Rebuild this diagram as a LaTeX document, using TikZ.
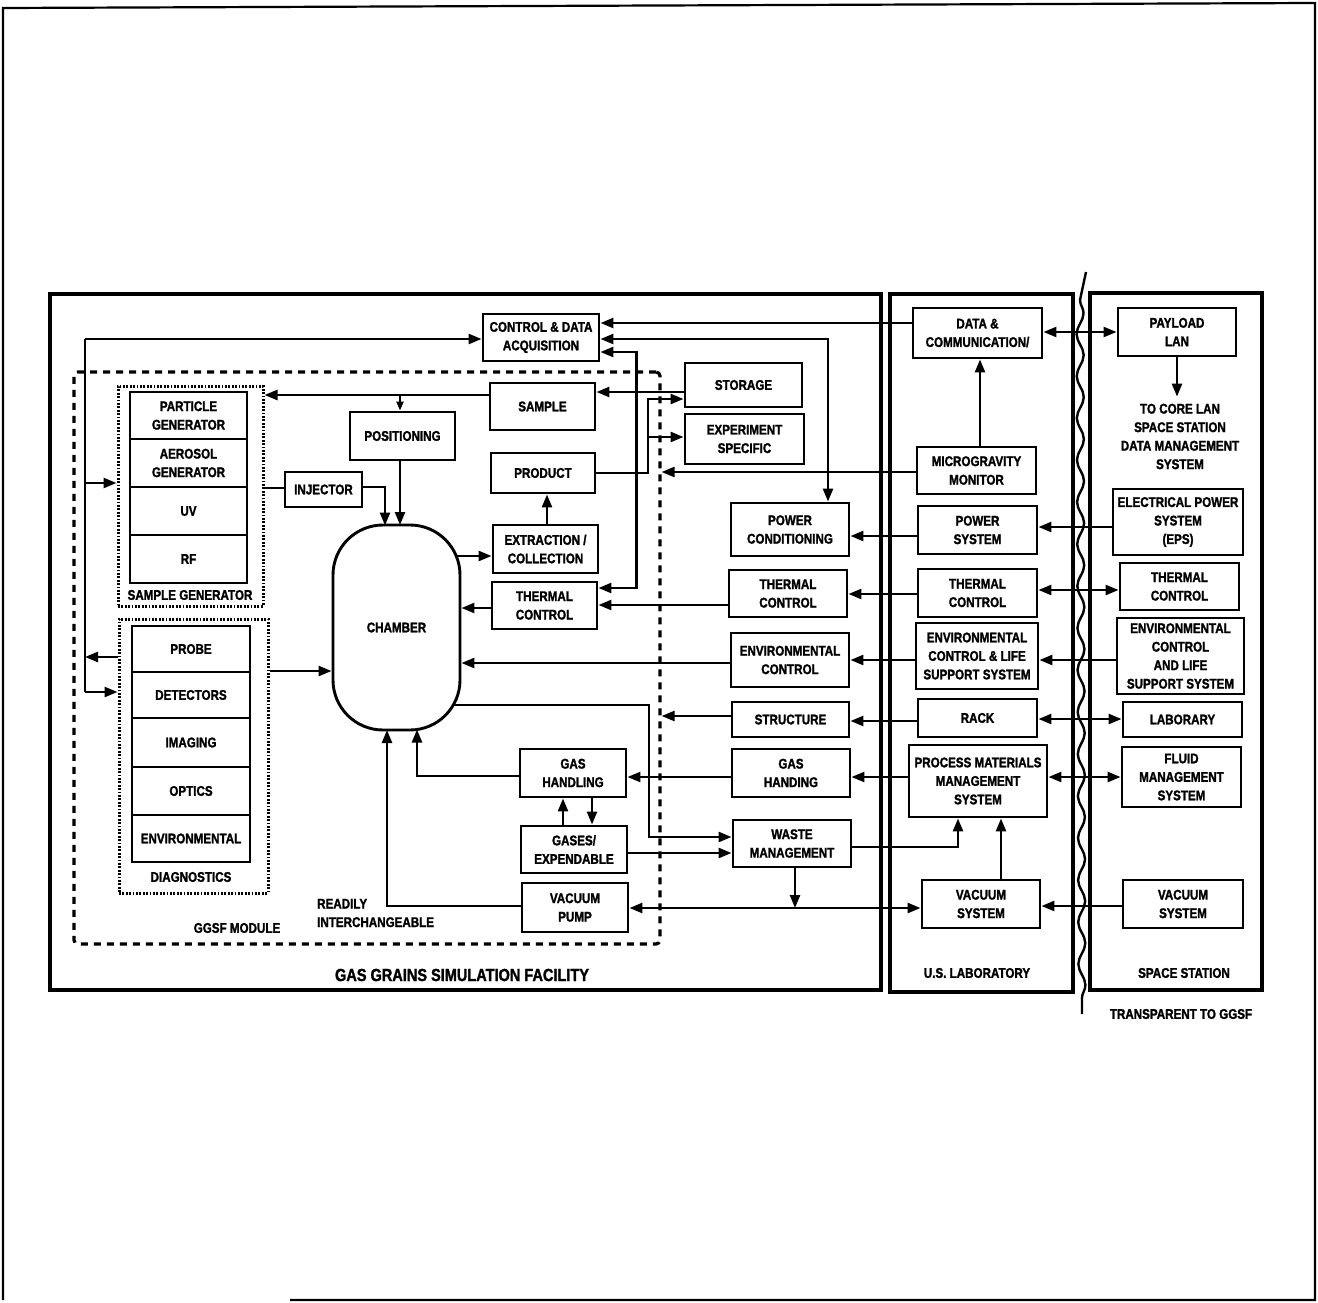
\documentclass[tikz,border=0pt]{standalone}
\usepackage{fontspec}
\newfontfamily\lbl{Liberation Sans}[FakeStretch=0.83, BoldFeatures={FakeBold=1.6}]
\usetikzlibrary{arrows.meta,decorations.pathmorphing}

\begin{document}
\begin{tikzpicture}[x=1pt,y=-1pt,
  txt/.style={font=\lbl\bfseries\fontsize{14}{18.5}\selectfont, align=center, inner sep=0pt},
  box/.style={txt, draw, line width=2.9pt},
  bx/.style 2 args={box, minimum width=#1pt, minimum height=#2pt},
  frame/.style 2 args={draw, line width=3.4pt, inner sep=0pt, minimum width=#1pt, minimum height=#2pt},
  modframe/.style 2 args={draw, line width=3.2pt, dash pattern=on 7pt off 6pt, rounded corners=4pt,
    inner sep=0pt, minimum width=#1pt, minimum height=#2pt},
  grpframe/.style 2 args={draw, line width=3pt, dash pattern=on 1.8pt off 1.6pt,
    inner sep=0pt, minimum width=#1pt, minimum height=#2pt},
  wire/.style={line width=2.5pt},
  tip/.tip={Triangle[length=13pt,width=10pt]},
  arr/.style={wire, -tip},
  darr/.style={wire, tip-tip},
]
\useasboundingbox (0,0) rectangle (1318,1303);

% page frame
\draw[line width=2.2pt] (290,1300) -- (1315,1300) -- (1315,3) -- (3,8) -- (3,1300);

% outer system frames
\node[frame={831}{696}] (ggsf) at (465.5,642) {};
\node[frame={183}{698}] (uslab) at (981.5,643) {};
\node[frame={172}{697}] (sstn) at (1176,641.5) {};
\node[modframe={586}{572}] (mod) at (367,658) {};

% boundary of what is transparent to the facility
\draw[line width=2.4pt] (1086,272) -- (1080,300);
\draw[line width=2.4pt, decorate, decoration={snake, amplitude=3.5pt, segment length=42pt}]
  (1080,300) -- (1082,1014);

% sample generator stack
\node[grpframe={145}{220}] (sg) at (190.5,496) {};
\node[bx={117}{47}] (pgen) at (188.5,415.5) {PARTICLE\\GENERATOR};
\node[bx={117}{48}] (agen) at (188.5,463) {AEROSOL\\GENERATOR};
\node[bx={117}{48}] (uv) at (188.5,511) {UV};
\node[bx={117}{48}] (rf) at (188.5,559) {RF};
\node[txt] (sglabel) at (190,595) {SAMPLE GENERATOR};

% diagnostics stack
\node[grpframe={149}{274}] (diag) at (193.5,756) {};
\node[bx={118}{46}] (probe) at (191,649) {PROBE};
\node[bx={118}{46}] (detect) at (191,695) {DETECTORS};
\node[bx={118}{49}] (imaging) at (191,742.5) {IMAGING};
\node[bx={118}{48}] (optics) at (191,791) {OPTICS};
\node[bx={118}{47}] (envdiag) at (191,838.5) {ENVIRONMENTAL};
\node[txt] (diaglabel) at (191,877) {DIAGNOSTICS};

% chamber
\node[draw, line width=2.9pt, rounded corners=50pt, minimum width=127pt, minimum height=205pt,
  txt] (chamber) at (396.5,627.5) {CHAMBER};
\coordinate (ch-inj) at (385,525.5);
\coordinate (ch-pos) at (400,525);
\coordinate (ch-ex) at (456,556);
\coordinate (ch-wm) at (453,705);
\coordinate (ch-gh) at (417,729.5);
\coordinate (ch-vp) at (387,730);

% facility blocks
\node[bx={116}{47}] (cda) at (541,337.5) {CONTROL \& DATA\\ACQUISITION};
\node[bx={105}{47}] (sample) at (542.5,406.5) {SAMPLE};
\node[bx={105}{48}] (posn) at (402.5,436) {POSITIONING};
\node[bx={104}{40}] (product) at (543,473) {PRODUCT};
\node[bx={77}{35}] (injector) at (323.5,489.5) {INJECTOR};
\node[bx={105}{48}] (extr) at (545.5,549) {EXTRACTION /\\COLLECTION};
\node[bx={105}{47}] (tcl) at (544.5,605.5) {THERMAL\\CONTROL};
\node[bx={106}{48}] (ghl) at (573,773) {GAS\\HANDLING};
\node[bx={106}{47}] (gasexp) at (574,849.5) {GASES/\\EXPENDABLE};
\node[bx={106}{49}] (vpump) at (575,907.5) {VACUUM\\PUMP};
\node[bx={117}{44}] (storage) at (743.5,385) {STORAGE};
\node[bx={119}{50}] (expspec) at (744.5,439) {EXPERIMENT\\SPECIFIC};
\node[bx={118}{53}] (pcond) at (790,529.5) {POWER\\CONDITIONING};
\node[bx={118}{47}] (tcr) at (788,593.5) {THERMAL\\CONTROL};
\node[bx={118}{54}] (envc) at (790,660) {ENVIRONMENTAL\\CONTROL};
\node[bx={117}{35}] (struct) at (790.5,719.5) {STRUCTURE};
\node[bx={118}{48}] (ghr) at (791,773) {GAS\\HANDING};
\node[bx={118}{47}] (waste) at (792,843.5) {WASTE\\MANAGEMENT};

% U.S. laboratory blocks
\node[bx={129}{50}] (dcomm) at (977.5,333) {DATA \&\\COMMUNICATION/};
\node[bx={119}{47}] (mgm) at (976.5,470.5) {MICROGRAVITY\\MONITOR};
\node[bx={119}{48}] (psys) at (977.5,530) {POWER\\SYSTEM};
\node[bx={119}{48}] (tcus) at (977.5,593) {THERMAL\\CONTROL};
\node[bx={122}{66}] (eclus) at (977,656) {ENVIRONMENTAL\\CONTROL \& LIFE\\SUPPORT SYSTEM};
\node[bx={119}{38}] (rack) at (977.5,718) {RACK};
\node[bx={138}{72}] (pmms) at (978,781) {PROCESS MATERIALS\\MANAGEMENT\\SYSTEM};
\node[bx={118}{48}] (vsus) at (981,904) {VACUUM\\SYSTEM};

% space station blocks
\node[bx={118}{48}] (plan) at (1177,332) {PAYLOAD\\LAN};
\node[txt] (core) at (1180,436.5) {TO CORE LAN\\SPACE STATION\\DATA MANAGEMENT\\SYSTEM};
\node[bx={130}{66}] (eps) at (1178,522) {ELECTRICAL POWER\\SYSTEM\\(EPS)};
\node[bx={119}{47}] (tcss) at (1179.5,586.5) {THERMAL\\CONTROL};
\node[bx={127}{76}] (eclss) at (1180.5,656) {ENVIRONMENTAL\\CONTROL\\AND LIFE\\SUPPORT SYSTEM};
\node[bx={119}{35}] (lab) at (1182.5,719.5) {LABORARY};
\node[bx={119}{60}] (fluid) at (1181.5,777) {FLUID\\MANAGEMENT\\SYSTEM};
\node[bx={120}{48}] (vsss) at (1183,904) {VACUUM\\SYSTEM};

% captions
\node[txt, font=\lbl\bfseries\fontsize{17.5}{20}\selectfont] (ggsfcap) at (462,975) {GAS GRAINS SIMULATION FACILITY};
\node[txt] (uscap) at (977,973) {U.S. LABORATORY};
\node[txt] (sscap) at (1184,973) {SPACE STATION};
\node[txt] (trcap) at (1181,1014) {TRANSPARENT TO GGSF};
\node[txt] (modcap) at (237,928) {GGSF MODULE};
\node[txt, align=left, anchor=west] (ricap) at (317,913) {READILY\\INTERCHANGEABLE};

% left-hand distribution bus
\coordinate (lt) at (85,339);
\coordinate (lb) at (85,692);
\draw[wire] (lb) -- (lt);
\draw[arr] (lt) -- (cda.west|-lt);
\draw[arr] (lt|-0,483) -- (sg.west|-0,483);
\draw[arr] (diag.west|-0,657) -- (lt|-0,657);
\draw[arr] (lb) -- (diag.west|-lb);

% links around the chamber
\draw[wire] (sg.east|-0,488) -- (injector.west|-0,488);
\draw[arr] (injector.east|-0,487) -| (ch-inj);
\draw[arr] (posn.south-|ch-pos) -- (ch-pos);
\draw[arr] (diag.east|-0,671) -- (chamber.west|-0,671);
\draw[arr] (ch-ex) -- (extr.west|-ch-ex);
\draw[arr] (extr.north-|547,0) -- (product.south-|547,0);
\draw[arr] (tcl.west|-0,608) -- (chamber.east|-0,608);
\draw[arr] (envc.west|-0,663) -- (chamber.east|-0,663);
\draw[arr] (ghl.west|-0,776) -| (ch-gh);
\draw[arr] (vpump.west|-0,906) -| (ch-vp);
\draw[arr] (ch-wm) -- ++(196,0) |- (waste.west|-0,837);
\draw[arr] (gasexp.east|-0,853) -- (waste.west|-0,853);
\draw[arr] (gasexp.north-|563,0) -- (ghl.south-|563,0);
\draw[arr] (ghl.south-|592,0) -- (gasexp.north-|592,0);

% sample handling
\coordinate (sbr) at (400,395);
\draw[arr] (sample.west|-0,395) -- (sg.east|-0,395);
\draw[wire, -{Triangle[length=9pt,width=7pt]}] (sbr) -- (posn.north-|sbr);
\draw[arr] (storage.west|-0,392) -- (sample.east|-0,392);
\coordinate (pj) at (648,473);
\draw[arr] (product.east) -- (pj) |- (storage.west|-0,399);
\draw[arr] (pj) |- (expspec.west|-0,437);

% control and data
\draw[arr] (dcomm.west|-0,323) -- (cda.east|-0,323);
\draw[darr] (cda.east|-0,339) -| (pcond.north-|828,0);
\draw[darr] (cda.east|-0,352) -- ++(36,0) |- (tcl.east|-0,588);
\draw[arr] (mgm.west|-0,472) -- (mod.east|-0,472);
\draw[arr] (mgm.north-|980,0) -- (dcomm.south-|980,0);
\draw[darr] (dcomm.east|-0,332) -- (plan.west|-0,332);
\draw[arr, shorten >=7pt] (plan.south) -- (plan.south|-core.north);

% utilities
\draw[arr] (eps.west|-0,527) -- (psys.east|-0,527);
\draw[arr] (psys.west|-0,536) -- (pcond.east|-0,536);
\draw[darr] (tcss.west|-0,590) -- (tcus.east|-0,590);
\draw[arr] (tcus.west|-0,594) -- (tcr.east|-0,594);
\draw[arr] (tcr.west|-0,605) -- (tcl.east|-0,605);
\draw[arr] (eclss.west|-0,660) -- (eclus.east|-0,660);
\draw[arr] (eclus.west|-0,660) -- (envc.east|-0,660);
\draw[darr] (lab.west|-0,719) -- (rack.east|-0,719);
\draw[arr] (rack.west|-0,721) -- (struct.east|-0,721);
\draw[arr] (struct.west|-0,716) -- (mod.east|-0,716);
\draw[darr] (fluid.west|-0,777) -- (pmms.east|-0,777);
\draw[arr] (pmms.west|-0,777) -- (ghr.east|-0,777);
\draw[arr] (ghr.west|-0,777) -- (ghl.east|-0,777);
\draw[arr] (waste.east|-0,847) -| (pmms.south-|958,0);
\draw[arr] (vsus.north-|1001,0) -- (pmms.south-|1001,0);
\coordinate (vj) at (795,908);
\draw[arr] (waste.south-|vj) -- (vj);
\draw[darr] (vpump.east|-0,908) -- (vsus.west|-0,908);
\draw[arr] (vsss.west|-0,906) -- (vsus.east|-0,906);
\end{tikzpicture}
\end{document}
